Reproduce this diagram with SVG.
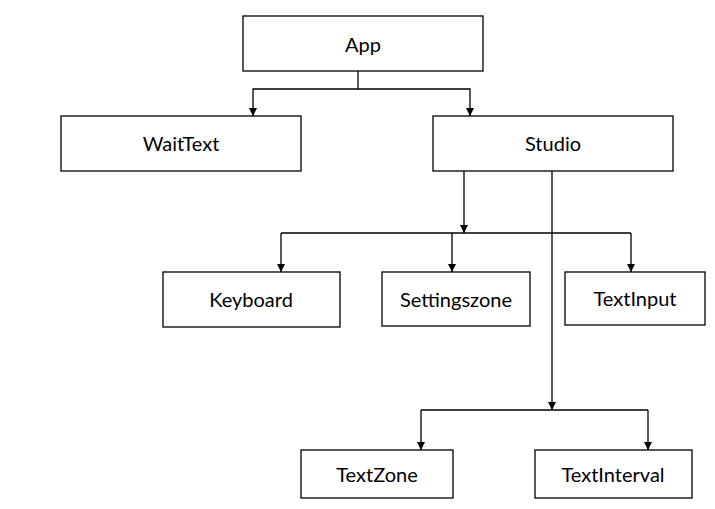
<svg xmlns="http://www.w3.org/2000/svg" width="715" height="509" viewBox="0 0 715 509">
<style>
.box{fill:#fff;stroke:#000;stroke-width:1.3}
.lbl{font-family:Lato,"Open Sans",sans-serif;font-size:20px;fill:#000;text-anchor:middle;dominant-baseline:central}
.ln{fill:none;stroke:#000;stroke-width:1.3}
</style>
<defs>
<marker id="ah" viewBox="0 0 8 8" refX="8" refY="4" markerWidth="8" markerHeight="8" markerUnits="userSpaceOnUse" orient="auto">
<path d="M0,0 L8,4 L0,8 Z" fill="#000"/>
</marker>
</defs>
<rect width="715" height="509" fill="#fff"/>
<g id="connectors">
<path class="ln" d="M358,71 V89"/>
<path class="ln" d="M358,89 H253 V116" marker-end="url(#ah)"/>
<path class="ln" d="M358,89 H470 V116" marker-end="url(#ah)"/>
<path class="ln" d="M464,171 V233" marker-end="url(#ah)"/>
<path class="ln" d="M281,233 H631"/>
<path class="ln" d="M281,233 V272" marker-end="url(#ah)"/>
<path class="ln" d="M452,233 V272" marker-end="url(#ah)"/>
<path class="ln" d="M631,233 V272" marker-end="url(#ah)"/>
<path class="ln" d="M552,171 V410" marker-end="url(#ah)"/>
<path class="ln" d="M421,410 H648"/>
<path class="ln" d="M421,410 V450" marker-end="url(#ah)"/>
<path class="ln" d="M648,410 V450" marker-end="url(#ah)"/>
</g>
<g id="app"><rect class="box" x="243" y="16" width="240" height="55"/><text class="lbl" x="363" y="44">App</text></g>
<g id="waittext"><rect class="box" x="61" y="116" width="240" height="55"/><text class="lbl" x="181" y="143">WaitText</text></g>
<g id="studio"><rect class="box" x="433" y="116" width="240" height="55"/><text class="lbl" x="553" y="143">Studio</text></g>
<g id="keyboard"><rect class="box" x="163" y="272" width="177" height="55"/><text class="lbl" x="251" y="299">Keyboard</text></g>
<g id="settingszone"><rect class="box" x="382" y="272" width="148" height="54"/><text class="lbl" x="456" y="299">Settingszone</text></g>
<g id="textinput"><rect class="box" x="565" y="272" width="140" height="53"/><text class="lbl" x="635" y="298">TextInput</text></g>
<g id="textzone"><rect class="box" x="301" y="450" width="152" height="48"/><text class="lbl" x="377" y="474">TextZone</text></g>
<g id="textinterval"><rect class="box" x="535" y="450" width="157" height="48"/><text class="lbl" x="613" y="474">TextInterval</text></g>
</svg>
